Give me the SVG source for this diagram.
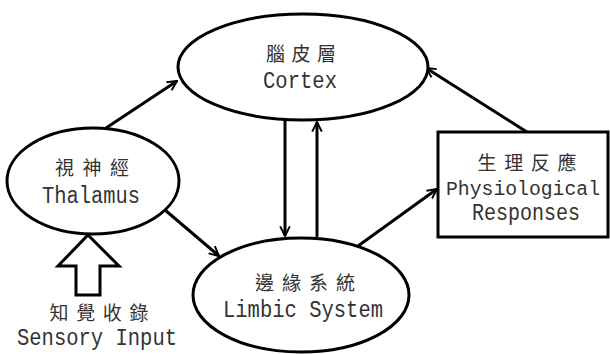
<svg xmlns="http://www.w3.org/2000/svg" width="610" height="354" viewBox="0 0 610 354">
  <style>
    .shape { fill: #fff; stroke: #000; stroke-width: 3; }
    .link { fill: none; stroke: #000; stroke-width: 3; marker-end: url(#head); }
    .zh { font-family: "Noto Sans CJK TC", "Noto Sans CJK SC", sans-serif; font-size: 19px; fill: #333; text-anchor: middle; }
    .en { font-family: "Liberation Mono", "DejaVu Sans Mono", monospace; font-size: 23px; fill: #333; text-anchor: middle; }
    .en.tight { font-size: 20px; }
  </style>
  <defs>
    <marker id="head" viewBox="0 0 10 10" refX="9" refY="5" markerWidth="4" markerHeight="4" orient="auto" markerUnits="strokeWidth">
      <path d="M1,1 L9,5 L1,9" fill="none" stroke="#000" stroke-width="1.6"/>
    </marker>
  </defs>

  <rect width="610" height="354" fill="#fff"/>

  <!-- connectors -->
  <g id="connectors">
    <line class="link" x1="103" y1="130" x2="177" y2="81"/>
    <line class="link" x1="527" y1="132" x2="426" y2="68"/>
    <line class="link" x1="165" y1="210" x2="219" y2="256"/>
    <line class="link" x1="358" y1="246" x2="437" y2="189"/>
    <line class="link" x1="285" y1="120" x2="285" y2="236"/>
    <line class="link" x1="317" y1="237" x2="317" y2="122"/>
  </g>

  <!-- cortex -->
  <g id="cortex">
    <ellipse class="shape" cx="303" cy="67" rx="125" ry="53"/>
    <text class="zh" x="301" y="61" textLength="70" lengthAdjust="spacing">腦皮層</text>
    <text class="en" x="300" y="88" textLength="74" lengthAdjust="spacingAndGlyphs">Cortex</text>
  </g>

  <!-- thalamus -->
  <g id="thalamus">
    <ellipse class="shape" cx="93" cy="181" rx="86" ry="53"/>
    <text class="zh" x="92" y="175" textLength="74" lengthAdjust="spacing">視神經</text>
    <text class="en" x="91" y="203" textLength="98" lengthAdjust="spacingAndGlyphs">Thalamus</text>
  </g>

  <!-- limbic system -->
  <g id="limbic">
    <ellipse class="shape" cx="301" cy="295" rx="108" ry="57"/>
    <text class="zh" x="305" y="290" textLength="100" lengthAdjust="spacing">邊緣系統</text>
    <text class="en" x="303" y="317" textLength="160" lengthAdjust="spacingAndGlyphs">Limbic System</text>
  </g>

  <!-- physiological responses -->
  <g id="responses">
    <rect class="shape" x="438" y="132" width="170" height="105" stroke-width="3.5"/>
    <text class="zh" x="527" y="170" textLength="99" lengthAdjust="spacing">生理反應</text>
    <text class="en tight" x="523" y="195" textLength="154" lengthAdjust="spacingAndGlyphs">Physiological</text>
    <text class="en" x="526" y="220" textLength="108" lengthAdjust="spacingAndGlyphs">Responses</text>
  </g>

  <!-- sensory input -->
  <g id="sensory-input">
    <polygon class="shape" points="88,235 119,266 100,266 100,295 76,295 76,266 58,266"/>
    <text class="zh" x="99" y="320" textLength="99" lengthAdjust="spacing">知覺收錄</text>
    <text class="en" x="97" y="345" textLength="160" lengthAdjust="spacingAndGlyphs">Sensory Input</text>
  </g>
</svg>
